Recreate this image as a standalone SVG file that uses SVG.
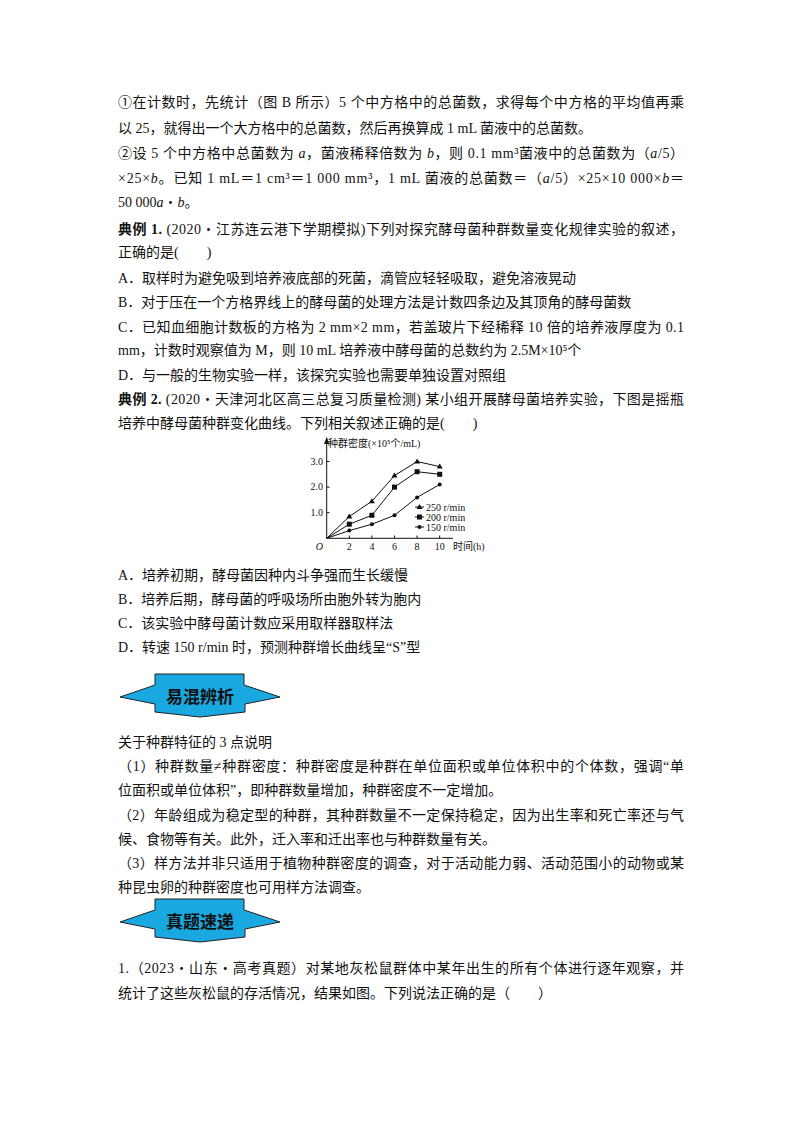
<svg xmlns="http://www.w3.org/2000/svg" width="800" height="1132" viewBox="0 0 800 1132">
<style>
text{font-family:"Liberation Serif","Noto Sans CJK SC",serif;font-size:14px;fill:#111}
.b{font-weight:bold}
.s{font-size:10px}
.ban{fill:#1aa8e0;stroke:#222;stroke-width:1}
.bt{font-size:17px;font-weight:bold;text-anchor:middle}
.ax{stroke:#111;stroke-width:1;fill:none}
</style>
<rect width="800" height="1132" fill="#fff"/>
<g id="text-top">
<text x="118" y="107" textLength="566" lengthAdjust="spacing">①在计数时，先统计（图 B 所示）5 个中方格中的总菌数，求得每个中方格的平均值再乘</text>
<text x="118" y="133">以 25，就得出一个大方格中的总菌数，然后再换算成 1 mL 菌液中的总菌数。</text>
<text x="118" y="158" textLength="566" lengthAdjust="spacing">②设 5 个中方格中总菌数为 <tspan font-style="italic">a</tspan>，菌液稀释倍数为 <tspan font-style="italic">b</tspan>，则 0.1 mm³菌液中的总菌数为（<tspan font-style="italic">a</tspan>/5）</text>
<text x="118" y="183" textLength="566" lengthAdjust="spacing">×25×<tspan font-style="italic">b</tspan>。已知 1 mL＝1 cm³＝1 000 mm³，1 mL 菌液的总菌数＝（<tspan font-style="italic">a</tspan>/5）×25×10 000×<tspan font-style="italic">b</tspan>＝</text>
<text x="118" y="207">50 000<tspan font-style="italic">a</tspan>・<tspan font-style="italic">b</tspan>。</text>
<text x="118" y="234" textLength="566" lengthAdjust="spacing"><tspan class="b">典例 1.</tspan> (2020・江苏连云港下学期模拟)下列对探究酵母菌种群数量变化规律实验的叙述，</text>
<text x="118" y="257">正确的是(　　)</text>
<text x="118" y="283">A．取样时为避免吸到培养液底部的死菌，滴管应轻轻吸取，避免溶液晃动</text>
<text x="118" y="307">B．对于压在一个方格界线上的酵母菌的处理方法是计数四条边及其顶角的酵母菌数</text>
<text x="118" y="332" textLength="566" lengthAdjust="spacing">C．已知血细胞计数板的方格为 2 mm×2 mm，若盖玻片下经稀释 10 倍的培养液厚度为 0.1</text>
<text x="118" y="355">mm，计数时观察值为 M，则 10 mL 培养液中酵母菌的总数约为 2.5M×10⁵个</text>
<text x="118" y="380">D．与一般的生物实验一样，该探究实验也需要单独设置对照组</text>
<text x="118" y="404" textLength="566" lengthAdjust="spacing"><tspan class="b">典例 2.</tspan> (2020・天津河北区高三总复习质量检测) 某小组开展酵母菌培养实验，下图是摇瓶</text>
<text x="118" y="428">培养中酵母菌种群变化曲线。下列相关叙述正确的是(　　)</text>
</g>
<g id="chart">
<line class="ax" x1="326.7" y1="538.3" x2="326.7" y2="438"/>
<path d="M324,444 L326.7,437 L329.4,444 Z" fill="#111"/>
<line class="ax" x1="326.7" y1="538.3" x2="453" y2="538.3"/>
<g class="ax">
<line x1="349.3" y1="538.3" x2="349.3" y2="535.5"/><line x1="371.9" y1="538.3" x2="371.9" y2="535.5"/><line x1="394.5" y1="538.3" x2="394.5" y2="535.5"/><line x1="417.1" y1="538.3" x2="417.1" y2="535.5"/><line x1="439.7" y1="538.3" x2="439.7" y2="535.5"/>
<line x1="326.7" y1="512.7" x2="329.5" y2="512.7"/><line x1="326.7" y1="487.1" x2="329.5" y2="487.1"/><line x1="326.7" y1="461.5" x2="329.5" y2="461.5"/>
</g>
<text x="328" y="447" class="s">种群密度(×10⁵个/mL)</text>
<text x="323" y="516" class="s" text-anchor="end">1.0</text>
<text x="323" y="490" class="s" text-anchor="end">2.0</text>
<text x="323" y="465" class="s" text-anchor="end">3.0</text>
<text x="323" y="550" class="s" font-style="italic" text-anchor="end">O</text>
<text x="349.3" y="550" class="s" text-anchor="middle">2</text>
<text x="371.9" y="550" class="s" text-anchor="middle">4</text>
<text x="394.5" y="550" class="s" text-anchor="middle">6</text>
<text x="417.1" y="550" class="s" text-anchor="middle">8</text>
<text x="439.7" y="550" class="s" text-anchor="middle">10</text>
<text x="453" y="550" class="s">时间(h)</text>
<polyline class="ax" points="326.7,538.3 349.3,516.5 371.9,501.2 394.5,475.6 417.1,461.5 439.7,466.6"/>
<polyline class="ax" points="326.7,538.3 349.3,524.2 371.9,515.3 394.5,487.1 417.1,471.7 439.7,474.3"/>
<polyline class="ax" points="326.7,538.3 349.3,530.6 371.9,524.2 394.5,515.3 417.1,497.4 439.7,484.5"/>
<g fill="#111">
<path d="M349.3,513.5l3,5h-6z M371.9,498.2l3,5h-6z M394.5,472.6l3,5h-6z M417.1,458.5l3,5h-6z M439.7,463.6l3,5h-6z"/>
<rect x="346.8" y="521.7" width="5" height="5"/><rect x="369.4" y="512.8" width="5" height="5"/><rect x="392" y="484.6" width="5" height="5"/><rect x="414.6" y="469.2" width="5" height="5"/><rect x="437.2" y="471.8" width="5" height="5"/>
<circle cx="349.3" cy="530.6" r="2"/><circle cx="371.9" cy="524.2" r="2"/><circle cx="394.5" cy="515.3" r="2"/><circle cx="417.1" cy="497.4" r="2"/><circle cx="439.7" cy="484.5" r="2"/>
<line x1="415" y1="507" x2="424" y2="507" stroke="#111"/><path d="M419.5,504l3,5h-6z"/>
<line x1="415" y1="517" x2="424" y2="517" stroke="#111"/><rect x="417" y="514.5" width="5" height="5"/>
<line x1="415" y1="527" x2="424" y2="527" stroke="#111"/><circle cx="419.5" cy="527" r="2"/>
</g>
<text x="426" y="510.5" class="s">250 r/min</text>
<text x="426" y="520.5" class="s">200 r/min</text>
<text x="426" y="530.5" class="s">150 r/min</text>
</g>
<g id="text-mid">
<text x="118" y="580">A．培养初期，酵母菌因种内斗争强而生长缓慢</text>
<text x="118" y="604">B．培养后期，酵母菌的呼吸场所由胞外转为胞内</text>
<text x="118" y="628">C．该实验中酵母菌计数应采用取样器取样法</text>
<text x="118" y="652">D．转速 150 r/min 时，预测种群增长曲线呈“S”型</text>
</g>
<g id="banner1">
<polygon class="ban" points="120,697 155,685 155,674 244,674 244,685 280,697 245,704 245,712 200,717 155,712 155,704"/>
<text x="200" y="703" class="bt">易混辨析</text>
</g>
<g id="text-low">
<text x="118" y="747">关于种群特征的 3 点说明</text>
<text x="118" y="771" textLength="566" lengthAdjust="spacing">（1）种群数量≠种群密度：种群密度是种群在单位面积或单位体积中的个体数，强调“单</text>
<text x="118" y="795">位面积或单位体积”，即种群数量增加，种群密度不一定增加。</text>
<text x="118" y="820" textLength="566" lengthAdjust="spacing">（2）年龄组成为稳定型的种群，其种群数量不一定保持稳定，因为出生率和死亡率还与气</text>
<text x="118" y="844">候、食物等有关。此外，迁入率和迁出率也与种群数量有关。</text>
<text x="118" y="868" textLength="566" lengthAdjust="spacing">（3）样方法并非只适用于植物种群密度的调查，对于活动能力弱、活动范围小的动物或某</text>
<text x="118" y="892">种昆虫卵的种群密度也可用样方法调查。</text>
</g>
<g id="banner2">
<polygon class="ban" points="120,922 155,910 155,899 244,899 244,910 280,922 245,929 245,937 200,942 155,937 155,929"/>
<text x="200" y="928" class="bt">真题速递</text>
</g>
<g id="text-end">
<text x="118" y="973" textLength="566" lengthAdjust="spacing">1.（2023・山东・高考真题）对某地灰松鼠群体中某年出生的所有个体进行逐年观察，并</text>
<text x="118" y="998">统计了这些灰松鼠的存活情况，结果如图。下列说法正确的是（　　）</text>
</g>
<g id="connectors"/>
</svg>
